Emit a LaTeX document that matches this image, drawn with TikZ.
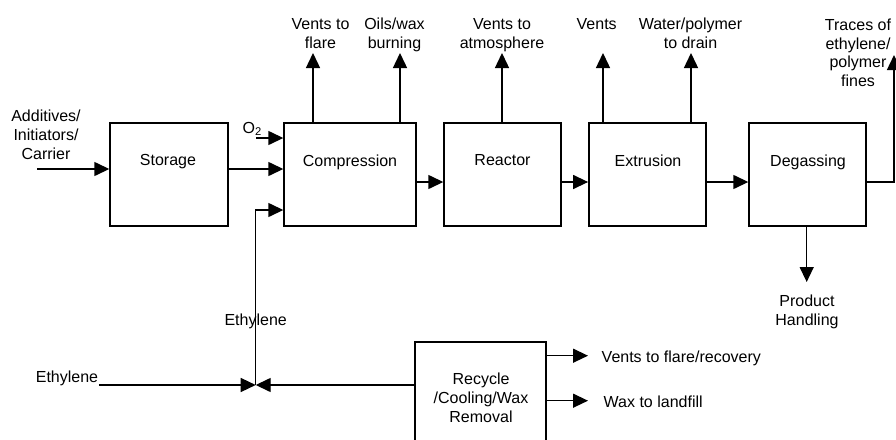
\documentclass[tikz,border=0pt]{standalone}
\usepackage{fontspec}
\setmainfont{Liberation Sans}
\usetikzlibrary{arrows.meta}
\begin{document}
\begin{tikzpicture}[x=1pt,y=-1pt,
  line width=1.4pt,
  box/.style={draw, line width=1.4pt, inner sep=0pt, minimum width=117pt, minimum height=103pt},
  txt/.style={inner sep=0pt, align=center, anchor=north, font=\fontsize{16}{18.8}\selectfont},
  txtl/.style={inner sep=0pt, anchor=north west, font=\fontsize{16}{18.8}\selectfont},
  flow/.style={-{Triangle[length=15pt,width=14pt]}}
]
\useasboundingbox (0,0) rectangle (896,439);
\fill[white] (0,0) rectangle (896,439);
\clip (0,0) rectangle (896,439);

% boxes
\node[box, minimum width=118pt] (stor) at (169,174.5) {};
\node[box, minimum width=132pt] (comp) at (350,174.5) {};
\node[box] (reac) at (502.5,174.5) {};
\node[box] (extr) at (647.3,174.5) {};
\node[box] (degas) at (807.5,174.5) {};
\node[box, minimum width=131pt, minimum height=120pt] (recy) at (480.5,402) {};

% box labels
\node[txt] (storL) at (168,154) {Storage};
\node[txt] (compL) at (350,154) {Compression};
\node[txt] (reacL) at (502.5,154) {Reactor};
\node[txt] (extrL) at (648,154) {Extrusion};
\node[txt] (degL) at (808,154) {Degassing};
\node[txt] (recyL) at (481,372.3) {Recycle\\/Cooling/Wax\\Removal};

% other labels
\node[txt] (lA) at (320.5,17.5) {Vents to\\flare};
\node[txt] (lB) at (394.5,17.5) {Oils/wax\\burning};
\node[txt] (lC) at (502,17.5) {Vents to\\atmosphere};
\node[txt] (lD) at (596.7,17.5) {Vents};
\node[txt] (lE) at (690.5,17.5) {Water/polymer\\to drain};
\node[txt] (lF) at (858,18) {Traces of\\ethylene/\\polymer\\fines};
\node[txt] (lG) at (46,109.3) {Additives/\\Initiators/\\Carrier};
\node[txt] (lP) at (807,294.3) {Product\\Handling};
\node[txt] (ethU) at (255.7,313.3) {Ethylene};
\node[txt] (ethL) at (67,370.7) {Ethylene};
\node[txtl] (o2L) at (242,121.5) {O\textsubscript{2}};
\node[txtl] (rv) at (601,350) {Vents to flare/recovery};
\node[txtl] (rw) at (603,395) {Wax to landfill};

% coordinates
\coordinate (addIn) at (37,169);
\coordinate (o2in) at (256,138);
\coordinate (jn) at (255.7,385);
\coordinate (bend) at (255.7,210);
\coordinate (mainy) at (0,182);
\coordinate (trc) at (894,55);
\coordinate (ventA) at (313,53);
\coordinate (ventB) at (400,53);
\coordinate (ventC) at (502,53);
\coordinate (ventD) at (603,53);
\coordinate (ventE) at (691,53);
\coordinate (prod) at (806.7,282);
\coordinate (r1) at (588,355.7);
\coordinate (r2) at (588,400.7);

% connectors
\draw[flow] (addIn) -- (addIn -| stor.west);
\draw[flow] (stor.east |- addIn) -- (comp.west |- addIn);
\draw[flow] (o2in) -- (o2in -| comp.west);
\draw[flow] (jn) -- (bend) -- (bend -| comp.west);
\draw[flow] (comp.east |- mainy) -- (reac.west |- mainy);
\draw[flow] (reac.east |- mainy) -- (extr.west |- mainy);
\draw[flow] (extr.east |- mainy) -- (degas.west |- mainy);
\draw[flow] (degas.east |- mainy) -| (trc);
\draw[flow] (comp.north -| ventA) -- (ventA);
\draw[flow] (comp.north -| ventB) -- (ventB);
\draw[flow] (reac.north -| ventC) -- (ventC);
\draw[flow] (extr.north -| ventD) -- (ventD);
\draw[flow] (extr.north -| ventE) -- (ventE);
\draw[flow] (degas.south -| prod) -- (prod);
\draw[flow] (ethL.south east |- jn) -- (jn);
\draw[flow] (recy.west |- jn) -- (jn);
\draw[flow] (recy.east |- r1) -- (r1);
\draw[flow] (recy.east |- r2) -- (r2);
\end{tikzpicture}
\end{document}
